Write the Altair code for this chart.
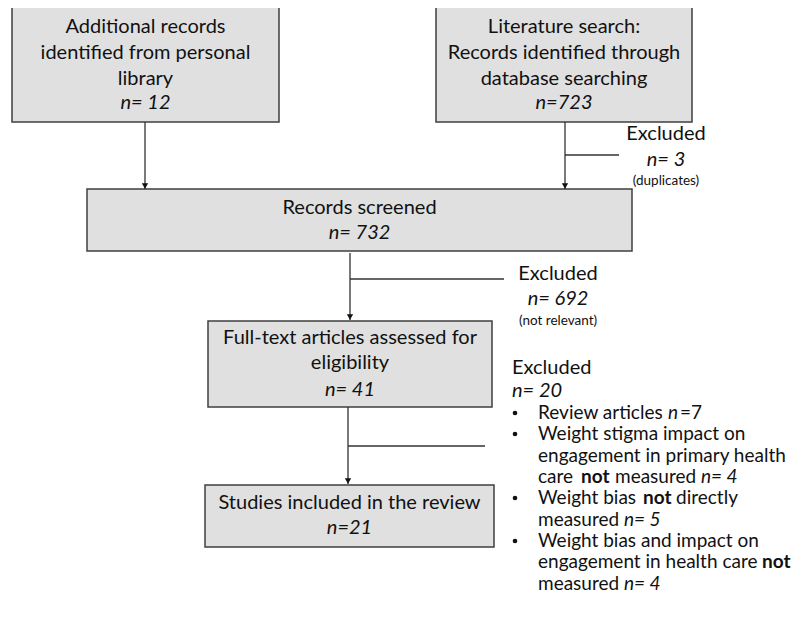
import altair as alt
import pandas as pd

FONT = "Lato"
FS = 20
FS_LIST = 19

# Boxes (pixel coordinates of the diagram)
box_x1 = [12, 436, 87, 208, 205]
box_x2 = [279, 692, 632, 492, 494]
box_y1 = [7, 7, 189, 321, 485]
box_y2 = [122, 122, 251, 407, 547]

# Vertical arrows: x, start y, tip y
arrow_x = [145, 565, 350, 348]
arrow_y1 = [122, 122, 253, 407]
arrow_y2 = [189, 189, 320, 484]

# Exclusion branches: y, x start, x end
branch_y = [155, 279, 446]
branch_x1 = [565, 350, 348]
branch_x2 = [619, 504, 485]

# Centered text lines
c_text = ["Additional records", "identified from personal", "library",
          "Literature search:", "Records identified through", "database searching",
          "Records screened",
          "Full-text articles assessed for", "eligibility",
          "Studies included in the review",
          "Excluded", "Excluded"]
c_x = [145.5, 145.5, 145.5, 564, 564, 564, 359.5, 350, 350, 349.5, 666, 558]
c_y = [27, 53, 79, 27, 53, 79, 208, 338, 363, 503, 134, 274]

ci_text = ["n= 12", "n=723", "n= 732", "n= 41", "n=21", "n= 3", "n= 692"]
ci_x = [145.5, 564, 359.5, 350, 349.5, 666, 558]
ci_y = [103, 103, 233, 390, 528, 160, 299]

cs_text = ["(duplicates)", "(not relevant)"]
cs_x = [666, 558]
cs_y = [181, 321]

# Heading of the exclusion list
h_text = ["Excluded"]
h_x = [512]
h_y = [368]
hi_text = ["n= 20"]
hi_x = [512]
hi_y = [391]

# Bullets of the exclusion list
b_x = [515, 515, 515, 515]
b_y = [413, 434, 498, 541]

# Left-aligned exclusion list (normal / italic / bold segments)
l_text = ["Review articles", "=7", "Weight stigma impact on",
          "engagement in primary health", "care", "measured", "Weight bias",
          "directly", "measured", "Weight bias and impact on",
          "engagement in health care", "measured"]
l_x = [538, 680, 538, 538, 538, 615, 538, 676, 538, 538, 538, 538]
l_y = [413, 413, 434, 456, 477, 477, 498, 498, 520, 541, 562, 584]

li_text = ["n", "n= 4", "n= 5", "n= 4"]
li_x = [668, 701, 624, 624]
li_y = [413, 477, 520, 584]

lb_text = ["not", "not", "not"]
lb_x = [581, 643, 762]
lb_y = [477, 498, 562]

xs = alt.Scale(domain=[8, 802], range=[0, 794], nice=False, zero=False)
ys = alt.Scale(domain=[8, 631], reverse=True, nice=False, zero=False)

boxes = pd.DataFrame({"x1": box_x1, "x2": box_x2, "y1": box_y1, "y2": box_y2})
arrows = pd.DataFrame({"x": arrow_x, "y1": arrow_y1, "y2": arrow_y2})
heads = pd.DataFrame({"x": arrow_x, "y": [v - 3 for v in arrow_y2]})
branches = pd.DataFrame({"y": branch_y, "x1": branch_x1, "x2": branch_x2})
bullets = pd.DataFrame({"x": b_x, "y": b_y})

rects = alt.Chart(boxes).mark_rect(fill="#e0e0e0", stroke="#3f3f3f", strokeWidth=1.5).encode(
    x=alt.X("x1:Q", scale=xs, axis=None), x2="x2:Q",
    y=alt.Y("y1:Q", scale=ys, axis=None), y2="y2:Q")

vrules = alt.Chart(arrows).mark_rule(color="#333333", strokeWidth=1.3).encode(
    x=alt.X("x:Q", scale=xs, axis=None),
    y=alt.Y("y1:Q", scale=ys, axis=None), y2="y2:Q")

hrules = alt.Chart(branches).mark_rule(color="#333333", strokeWidth=1.3).encode(
    x=alt.X("x1:Q", scale=xs, axis=None), x2="x2:Q",
    y=alt.Y("y:Q", scale=ys, axis=None))

tips = alt.Chart(heads).mark_point(shape="triangle-down", filled=True, color="#111111",
                                   size=40, opacity=1).encode(
    x=alt.X("x:Q", scale=xs, axis=None),
    y=alt.Y("y:Q", scale=ys, axis=None))

dots = alt.Chart(bullets).mark_circle(color="#111111", size=22, opacity=1).encode(
    x=alt.X("x:Q", scale=xs, axis=None),
    y=alt.Y("y:Q", scale=ys, axis=None))


def txt(texts, xv, yv, align, size=FS, style="normal", weight="normal"):
    df = pd.DataFrame({"t": texts, "x": xv, "y": yv})
    return alt.Chart(df).mark_text(align=align, baseline="middle", font=FONT, fontSize=size,
                                   fontStyle=style, fontWeight=weight, color="#111111").encode(
        x=alt.X("x:Q", scale=xs, axis=None),
        y=alt.Y("y:Q", scale=ys, axis=None),
        text="t:N")


chart = alt.layer(
    rects, vrules, hrules, tips, dots,
    txt(c_text, c_x, c_y, "center"),
    txt(ci_text, ci_x, ci_y, "center", style="italic"),
    txt(cs_text, cs_x, cs_y, "center", size=13.5),
    txt(h_text, h_x, h_y, "left"),
    txt(hi_text, hi_x, hi_y, "left", style="italic"),
    txt(l_text, l_x, l_y, "left", size=FS_LIST),
    txt(li_text, li_x, li_y, "left", size=FS_LIST, style="italic"),
    txt(lb_text, lb_x, lb_y, "left", size=FS_LIST, weight="bold"),
).properties(width=794, height=623, padding=0,
             autosize=alt.AutoSizeParams(type="none")).configure_view(stroke=None)

chart.save("out.html", embed_options={"renderer": "svg", "actions": False})
